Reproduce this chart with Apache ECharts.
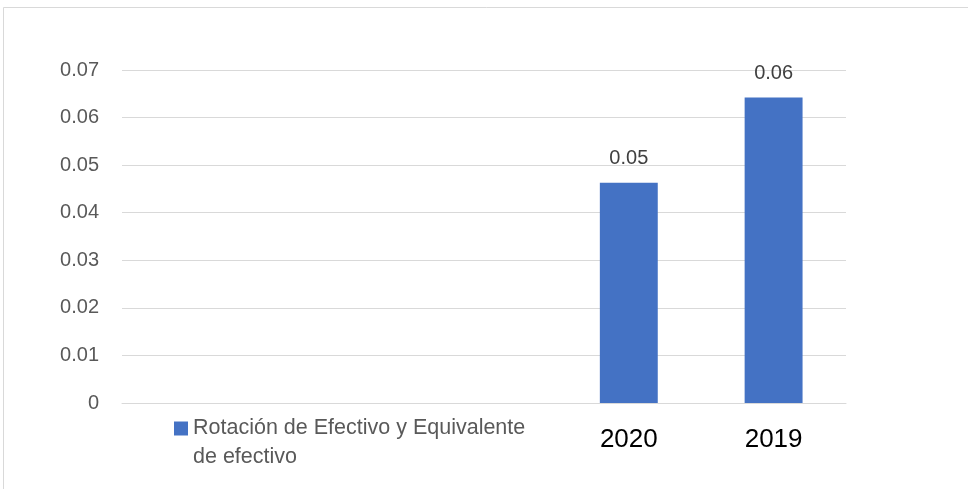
<!DOCTYPE html>
<html>
<head>
<meta charset="utf-8">
<script src="https://cdn.jsdelivr.net/npm/echarts@6/dist/echarts.min.js"></script>
<style>html,body{margin:0;padding:0;background:#fff}#c{width:968px;height:489px}</style>
</head>
<body>
<div id="c"></div>
<script>
const categories = ['', '', '', '2020', '2019'];
const seriesName = 'Rotación de Efectivo y Equivalente de efectivo';
const values = [null, null, null, 0.0463, 0.0642];
const yTicks = [0, 0.01, 0.02, 0.03, 0.04, 0.05, 0.06, 0.07];

const chart = echarts.init(document.getElementById('c'), null, {renderer: 'canvas'});
chart.setOption({
  backgroundColor: '#fff',
  animation: false,
  textStyle: {fontFamily: 'Liberation Sans'},
  graphic: [{
    type: 'rect', silent: true,
    shape: {x: 3.5, y: 7.5, width: 1000, height: 1000},
    style: {fill: 'none', stroke: '#d9d9d9', lineWidth: 1}
  }],
  grid: {left: 122, right: 122, top: 70, bottom: 86},
  legend: {
    left: 169, top: 380,
    icon: 'rect', itemWidth: 14, itemHeight: 14, itemGap: 7,
    data: [seriesName],
    formatter: function () { return ' \nRotación de Efectivo y Equivalente\nde efectivo'; },
    textStyle: {fontSize: 21.5, color: '#595959', lineHeight: 29, fontFamily: 'Liberation Sans'}
  },
  xAxis: {
    type: 'category', data: categories,
    axisLine: {lineStyle: {color: '#d9d9d9', width: 1}},
    axisTick: {show: false},
    axisLabel: {fontSize: 26, color: '#000', margin: 24, fontFamily: 'Liberation Sans'}
  },
  yAxis: {
    type: 'value', min: yTicks[0], max: yTicks[yTicks.length - 1], interval: 0.01,
    axisLine: {show: false}, axisTick: {show: false},
    splitLine: {lineStyle: {color: '#d9d9d9', width: 1}},
    axisLabel: {fontSize: 20, color: '#595959', margin: 23, fontFamily: 'Liberation Sans',
      formatter: function (v) { return v === 0 ? '0' : v.toFixed(2); }}
  },
  series: [{
    name: seriesName, type: 'bar', data: values,
    barWidth: '40%',
    itemStyle: {color: '#4472C4'},
    label: {show: true, position: 'top', distance: 14, fontSize: 20, color: '#404040', fontFamily: 'Liberation Sans',
      formatter: function (p) { return p.value == null ? '' : p.value.toFixed(2); }}
  }]
});
</script>
</body>
</html>
